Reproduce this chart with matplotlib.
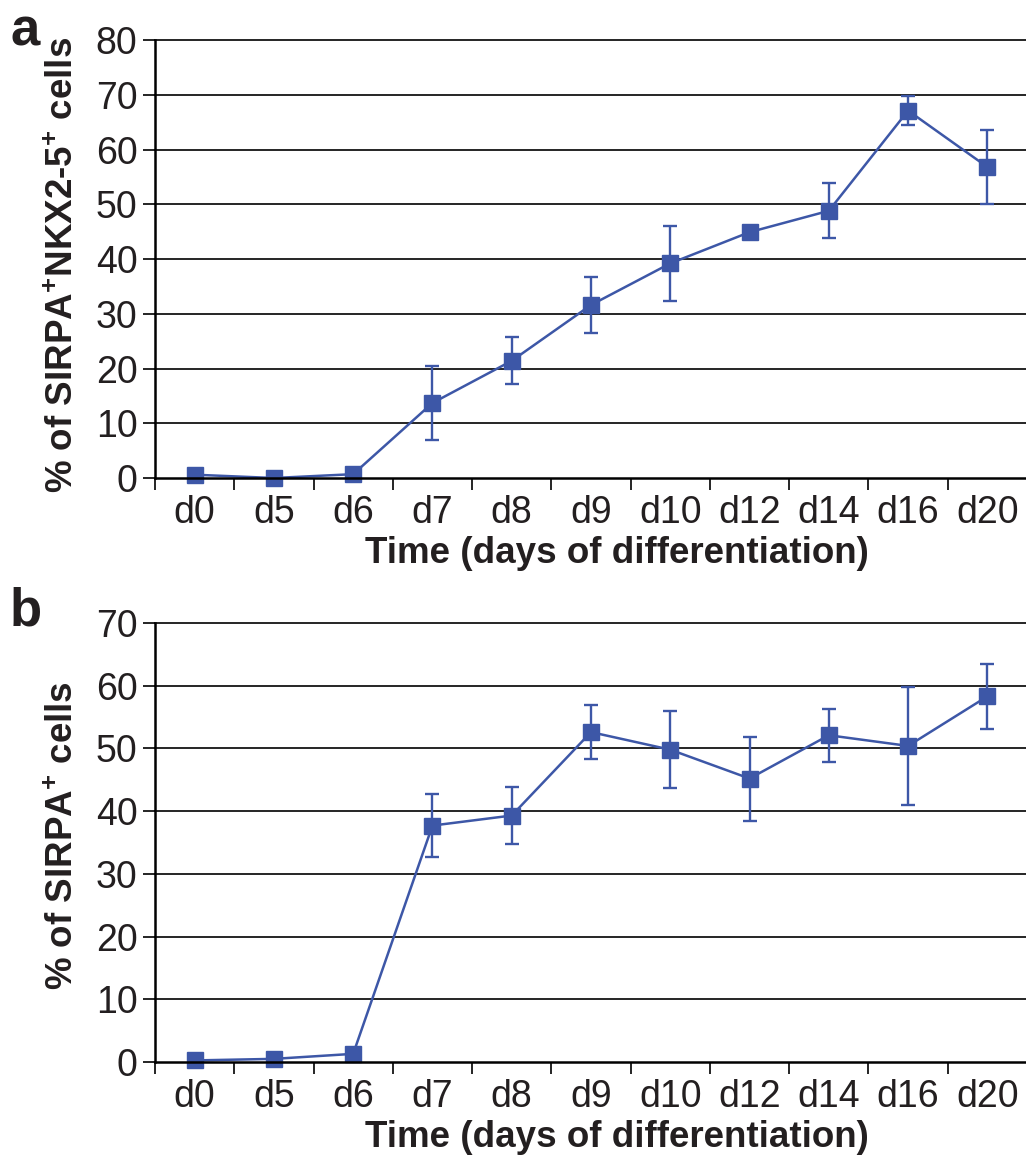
import matplotlib
matplotlib.use("Agg")
import matplotlib.pyplot as plt
import numpy as np

plt.rcParams['font.family'] = ['Liberation Sans', 'DejaVu Sans']
plt.rcParams['mathtext.fontset'] = 'custom'
plt.rcParams['mathtext.rm'] = 'Liberation Sans:bold'
plt.rcParams['mathtext.bf'] = 'Liberation Sans:bold'
plt.rcParams['mathtext.default'] = 'rm'

categories = ['d0', 'd5', 'd6', 'd7', 'd8', 'd9', 'd10', 'd12', 'd14', 'd16', 'd20']

a_values = [0.6, 0.0, 0.7, 13.7, 21.4, 31.6, 39.2, 44.9, 48.8, 67.1, 56.8]
a_errors = [0.0, 0.0, 0.0, 6.7, 4.3, 5.2, 6.9, 0.0, 5.0, 2.6, 6.7]

b_values = [0.25, 0.5, 1.3, 37.7, 39.3, 52.6, 49.8, 45.2, 52.1, 50.4, 58.3]
b_errors = [0.0, 0.0, 0.0, 5.0, 4.6, 4.3, 6.1, 6.7, 4.2, 9.4, 5.2]

a_yticks = [0, 10, 20, 30, 40, 50, 60, 70, 80]
b_yticks = [0, 10, 20, 30, 40, 50, 60, 70]

BLUE = '#3D57A7'
TXT = '#231F20'
W, H = 1026, 1162
fig = plt.figure(figsize=(W / 100, H / 100), dpi=100)

def px_axes(left, top, right, bottom):
    return fig.add_axes([left / W, 1 - bottom / H, (right - left) / W, (bottom - top) / H])

def draw(ax, values, errors, yticks, ylabel, ylabel_y, height_px):
    x = np.arange(len(categories))
    ax.set_xlim(-0.5, len(categories) - 0.5)
    ax.set_ylim(yticks[0], yticks[-1])
    for t in yticks[1:]:
        ax.axhline(t, color='black', lw=1.2, zorder=1, clip_on=False)
    ax.errorbar(x, values, yerr=errors, fmt='none', ecolor=BLUE,
                elinewidth=1.7, capsize=5, capthick=1.7, zorder=3)
    ax.plot(x, values, color=BLUE, lw=1.8, marker='s', markersize=11.5,
            markerfacecolor=BLUE, markeredgecolor=BLUE, zorder=4, clip_on=False)
    for s in ['top', 'right']:
        ax.spines[s].set_visible(False)
    for s in ['left', 'bottom']:
        ax.spines[s].set_linewidth(1.8)
        ax.spines[s].set_zorder(5)
    ax.set_yticks(yticks)
    ax.set_yticklabels([str(t) for t in yticks], fontsize=27, color=TXT)
    ax.tick_params(axis='y', direction='out', length=8.6, width=1.2, pad=4)
    ax.set_xticks(np.arange(-0.5, len(categories) + 0.5, 1.0))
    ax.set_xticklabels([])
    ax.tick_params(axis='x', which='major', direction='out', length=8.6, width=1.2)
    ax.set_xticks(x, minor=True)
    ax.set_xticklabels(categories, minor=True, fontsize=27, color=TXT)
    ax.tick_params(axis='x', which='minor', length=0, pad=12)
    ax.set_xlabel('Time (days of differentiation)', fontsize=26.5, fontweight='bold',
                  color=TXT, va='top')
    ax.xaxis.set_label_coords((617 - 155) / (1027 - 155), -58 / height_px)
    ax.set_ylabel(ylabel, fontsize=26.5, fontweight='bold', color=TXT)
    ax.yaxis.set_label_coords((81 - 155) / (1027 - 155), ylabel_y)
    return ax

ax1 = px_axes(155, 40, 1027, 478)
draw(ax1, a_values, a_errors, a_yticks,
     r'% of SIRPA$^{+}$NKX2-5$^{+}$ cells', 0.486, 438)
ax2 = px_axes(155, 623, 1027, 1062)
draw(ax2, b_values, b_errors, b_yticks,
     r'% of SIRPA$^{+}$ cells', 0.515, 439)

fig.text(10 / W, 1 - 46 / H, 'a', fontsize=38, fontweight='bold', color=TXT,
         ha='left', va='baseline')
fig.text(10 / W, 1 - 626 / H, 'b', fontsize=38, fontweight='bold', color=TXT,
         ha='left', va='baseline')

fig.savefig('out.png', dpi=100)
